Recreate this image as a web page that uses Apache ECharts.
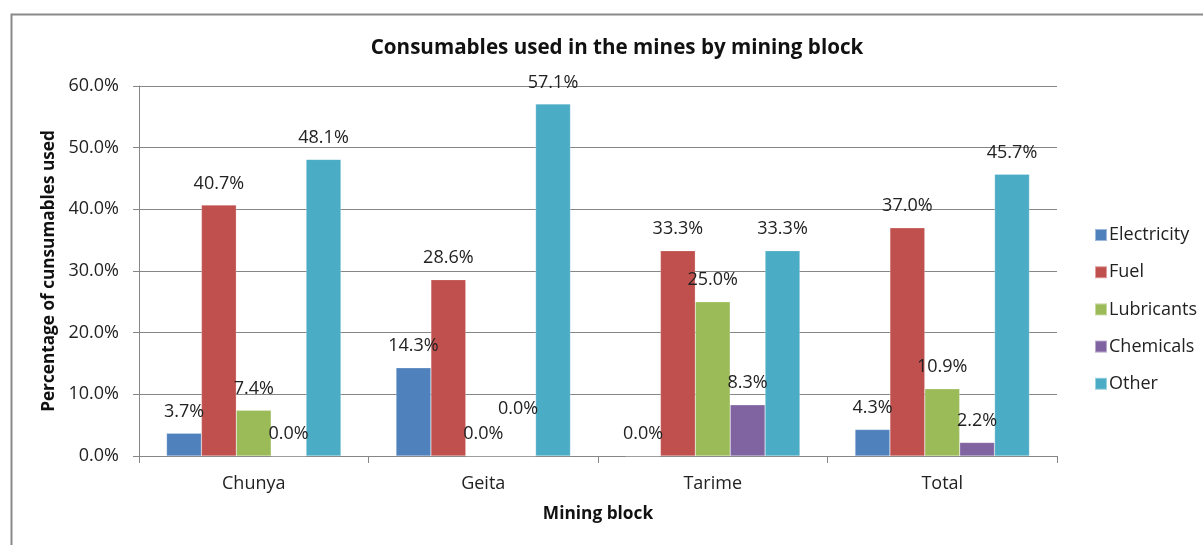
<!DOCTYPE html>
<html>
<head>
<meta charset="utf-8">
<script src="https://cdn.jsdelivr.net/npm/echarts@6/dist/echarts.min.js"></script>
<style>
  html, body { margin: 0; padding: 0; background: #fff; }
  #chart { width: 1203px; height: 545px; }
</style>
</head>
<body>
<div id="chart"></div>
<script>
// Mining blocks on the category axis
const blocks = ['Chunya', 'Geita', 'Tarime', 'Total'];

// Share of each consumable per block (percent)
const electricity = [3.7, 14.3, 0.0, 4.3];
const fuel        = [40.7, 28.6, 33.3, 37.0];
const lubricants  = [7.4, 0.0, 25.0, 10.9];
const chemicals   = [0.0, 0.0, 8.3, 2.2];
const other       = [48.1, 57.1, 33.3, 45.7];

const seriesNames = ['Electricity', 'Fuel', 'Lubricants', 'Chemicals', 'Other'];
const seriesData = [electricity, fuel, lubricants, chemicals, other];
const seriesColors = ['#4F81BD', '#C0504D', '#9BBB59', '#8064A2', '#4BACC6'];

const FONT = '"Open Sans", sans-serif';
const AXIS_GRAY = '#868686';

const chart = echarts.init(document.getElementById('chart'), null, { renderer: 'canvas' });

const series = seriesNames.map((name, i) => ({
  name: name,
  type: 'bar',
  data: seriesData[i].map((v, j) => {
    // Geita chemicals label sits higher so it clears the neighbouring 0.0% label
    if (name === 'Chemicals' && blocks[j] === 'Geita') {
      return { value: v, label: { offset: [0, -25] } };
    }
    return v;
  }),
  barGap: '0%',
  barCategoryGap: '24%',
  itemStyle: { color: seriesColors[i], borderColor: 'rgba(255,255,255,0.45)', borderWidth: 0.5 },
  label: {
    show: true,
    position: 'top',
    distance: 12.5,
    color: '#222',
    fontFamily: FONT,
    fontSize: 18,
    formatter: p => p.value.toFixed(1) + '%'
  },
  emphasis: { disabled: true }
}));

chart.setOption({
  animation: false,
  backgroundColor: '#fff',
  title: {
    text: 'Consumables used in the mines by mining block',
    left: 612,
    top: 33,
    textAlign: 'center',
    textStyle: { fontFamily: FONT, fontSize: 20.6, fontWeight: 'bold', color: '#111' }
  },
  legend: {
    orient: 'vertical',
    left: 1089,
    top: 219,
    itemWidth: 12,
    itemHeight: 12,
    itemGap: 15.2,
    icon: 'rect',
    textStyle: { fontFamily: FONT, fontSize: 18, color: '#222', lineHeight: 22, padding: [0, 0, 0, -3] },
    data: seriesNames
  },
  grid: { left: 139, right: 146, top: 86, bottom: 89, containLabel: false },
  xAxis: {
    type: 'category',
    data: blocks,
    boundaryGap: true,
    name: 'Mining block',
    nameLocation: 'middle',
    nameGap: 50,
    nameTextStyle: { fontFamily: FONT, fontSize: 17.3, fontWeight: 'bold', color: '#111' },
    axisLine: { lineStyle: { color: AXIS_GRAY, width: 1 } },
    axisTick: { show: true, length: 7, lineStyle: { color: AXIS_GRAY } },
    axisLabel: { fontFamily: FONT, fontSize: 18, color: '#222', margin: 18.5 }
  },
  yAxis: {
    type: 'value',
    min: 0,
    max: 60,
    interval: 10,
    name: 'Percentage of cunsumables used',
    nameLocation: 'middle',
    nameGap: 77,
    nameRotate: 90,
    nameTextStyle: { fontFamily: FONT, fontSize: 17.2, fontWeight: 'bold', color: '#111' },
    axisLine: { show: true, lineStyle: { color: AXIS_GRAY, width: 1 } },
    axisTick: { show: true, length: 6, lineStyle: { color: AXIS_GRAY } },
    axisLabel: { fontFamily: FONT, fontSize: 18, color: '#222', margin: 20, formatter: v => v.toFixed(1) + '%' },
    splitLine: { show: true, lineStyle: { color: AXIS_GRAY, width: 1 } }
  },
  graphic: [{
    type: 'rect',
    shape: { x: 11.5, y: 14.5, width: 1300, height: 600 },
    style: { fill: 'none', stroke: '#8a8a8a', lineWidth: 2 },
    silent: true,
    z: -1
  }],
  series: series
});
</script>
</body>
</html>
